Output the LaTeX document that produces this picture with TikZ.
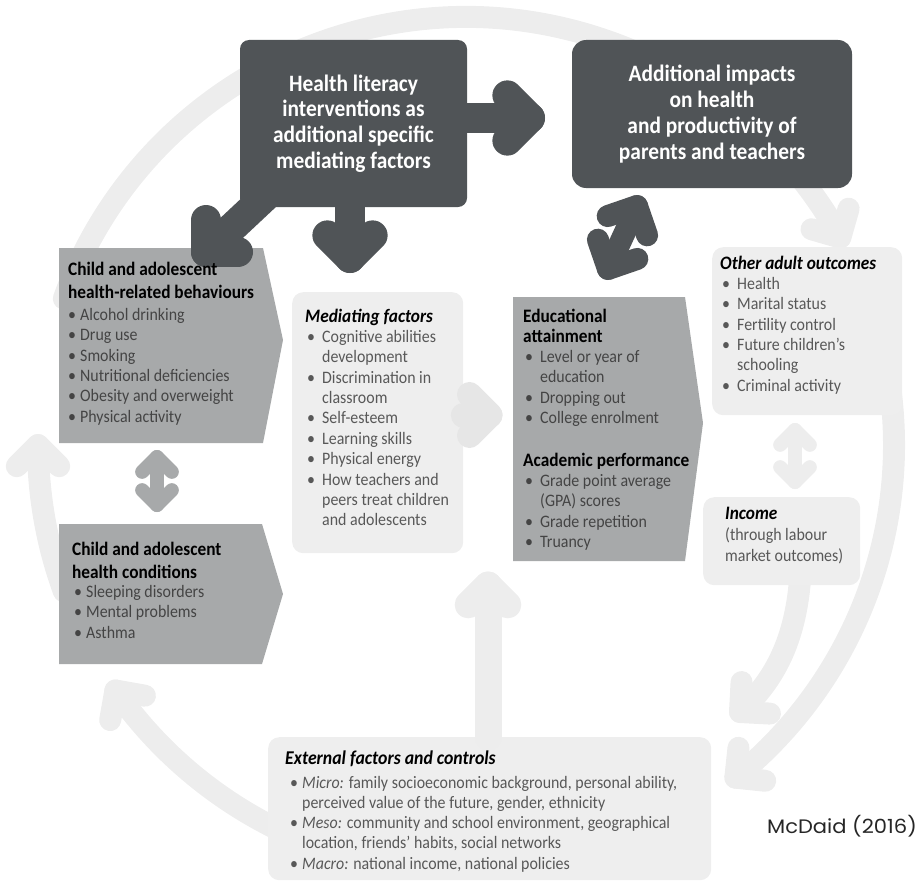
\documentclass[tikz,border=0pt]{standalone}
\usepackage{fontspec}
\setmainfont{Carlito}[FakeStretch=0.91]
\newfontfamily\citefont{Poppins}[FakeStretch=1.08]
\usetikzlibrary{calc}
\definecolor{darkfill}{RGB}{80,84,87}
\definecolor{midfill}{RGB}{167,169,170}
\definecolor{lightfill}{RGB}{238,238,238}
\definecolor{ringgray}{RGB}{237,237,237}
\definecolor{arrowgray}{RGB}{230,230,230}
\definecolor{miditem}{RGB}{68,68,68}
\definecolor{lightitem}{RGB}{88,88,88}
\tikzset{
  darkbox/.style={fill=darkfill, rounded corners=9pt, text=white, align=center,
    font=\bfseries\fontsize{23.5}{25.8}\selectfont, inner sep=0pt},
  lightbox/.style={fill=lightfill, rounded corners=11pt, inner sep=0pt},
  midbox/.style={fill=midfill},
  titletext/.style={anchor=north west, inner sep=0pt, align=left, text=black,
    font=\bfseries\fontsize{19}{22.5}\selectfont},
  itemtext/.style={anchor=north west, inner sep=0pt, align=left,
    font=\fontsize{17.5}{20.4}\selectfont},
  darkarrow/.style={draw=darkfill, line width=30pt, line cap=round, line join=round},
  ringarrow/.style={draw=ringgray, line width=22pt, line cap=round, line join=round},
}
\def\chevron[#1](#2)(#3:#4){\draw[#1] ($(#2)+(#3+135:#4)$) -- (#2) -- ($(#2)+(#3-135:#4)$);}
\def\ringarc[#1](#2:#3){\draw[#1] ($(ctr)+(#2:428)$) arc (#2:#3:428);
  \coordinate (ringtip) at ($(ctr)+(#3:428)$); \chevron[#1](ringtip)(#3+90:30)}
\def\itm{\makebox[15pt][l]{\textbullet}}
\def\ind{\hspace*{15pt}}
\def\sitm{\makebox[12pt][l]{\textbullet}}

\begin{document}
\begin{tikzpicture}[x=1pt, y=-1pt]
	\useasboundingbox (0,0) rectangle (923,883);
	\coordinate (ctr) at (466,445);
	
	%%%%% RING %%%%%
	\ringarc[ringarrow](200:331)
	\ringarc[ringarrow](-10:51)
	\ringarc[ringarrow](110:145)
	\ringarc[ringarrow](160:180)
	\draw[ringarrow] (800,580) .. controls (795,640) and (775,680) .. (740,712);
	\chevron[ringarrow](740,712)(138:30)
	
	%%%%% BOXES %%%%%
	\node[darkbox, minimum width=227, minimum height=167] (hl) at (353.5,123.5)
		{Health literacy\\interventions as\\additional specific\\mediating factors};
	\node[darkbox, rounded corners=14pt, minimum width=280, minimum height=148] (add) at (712,114)
		{Additional impacts\\on health\\and productivity of\\parents and teachers};
	
	\fill[midbox] (59,248) -- (263,248) -- (283,340) -- (263,443) -- (59,443) -- cycle;
	\fill[midbox] (59,524) -- (262,524) -- (283,594) -- (262,664) -- (59,664) -- cycle;
	\fill[midbox] (513,297) -- (685,297) -- (703,423) -- (685,561) -- (513,561) -- cycle;
	
	\node[lightbox, minimum width=171, minimum height=261, anchor=north west] (med) at (292,292) {};
	\node[lightbox, minimum width=190, minimum height=168, anchor=north west] (adult) at (712,247) {};
	\node[lightbox, minimum width=157, minimum height=88, anchor=north west] (income) at (703,497) {};
	\node[lightbox, minimum width=443, minimum height=143, anchor=north west] (ext) at (268,737) {};
	
	%%%%% LIGHT ARROWS %%%%%
	\draw[ringarrow, draw=midfill, line width=14pt] (157,457) -- (157,505);
	\chevron[ringarrow, draw=midfill, line width=14pt](157,457)(270:21)
	\chevron[ringarrow, draw=midfill, line width=14pt](157,505)(90:21)
	
	\draw[ringarrow, line width=14pt] (795,430) -- (795,482);
	\chevron[ringarrow, line width=14pt](795,430)(270:21)
	\chevron[ringarrow, line width=14pt](795,482)(90:21)
	
	\coordinate (tipF) at (488,585);
	\draw[ringarrow, line width=27pt] (ext.north -| tipF) -- (tipF);
	\chevron[ringarrow, line width=27pt](tipF)(270:28)
	
	\coordinate (tipG) at (490,415);
	\draw[ringarrow, draw=arrowgray, line width=25pt] (med.east |- tipG) -- (tipG);
	\chevron[ringarrow, draw=arrowgray, line width=25pt](tipG)(0:29)
	
	%%%%% DARK ARROWS %%%%%
	\coordinate (tipA) at (530,118);
	\draw[darkarrow] (hl.east |- tipA) -- (tipA);
	\chevron[darkarrow](tipA)(0:32)
	
	\coordinate (tipB) at (206,252);
	\draw[darkarrow] ($(hl.south west)+(30,-15)$) -- (tipB);
	\chevron[darkarrow](tipB)(135:32)
	
	\coordinate (tipC) at (350,258);
	\draw[darkarrow] (hl.south -| tipC) -- (tipC);
	\chevron[darkarrow](tipC)(90:32)
	
	\coordinate (tipD) at (637,206);
	\coordinate (tipE) at (608,269);
	\draw[darkarrow, line width=22pt] (tipD) -- (tipE);
	\chevron[darkarrow, line width=22pt](tipD)(-64:31)
	\chevron[darkarrow, line width=22pt](tipE)(116:31)
	
	%%%%% TEXTS %%%%%
	\node[titletext] (behtitle) at (68,262) {Child and adolescent\\health-related behaviours};
	\node[itemtext, text=miditem] (behitems) at (68,308) {\sitm Alcohol drinking\\\sitm Drug use\\\sitm Smoking\\
		\sitm Nutritional deficiencies\\\sitm Obesity and overweight\\\sitm Physical activity};
	
	\node[titletext] (condtitle) at (72,542) {Child and adolescent\\health conditions};
	\node[itemtext, text=miditem] (conditems) at (74,585) {\sitm Sleeping disorders\\\sitm Mental problems\\\sitm Asthma};
	
	\node[titletext, font=\bfseries\itshape\fontsize{19}{22.5}\selectfont] (medtitle) at (305,309) {Mediating factors};
	\node[itemtext, text=lightitem] (meditems) at (307,330) {\itm Cognitive abilities\\\ind development\\
		\itm Discrimination in\\\ind classroom\\\itm Self-esteem\\\itm Learning skills\\\itm Physical energy\\
		\itm How teachers and\\\ind peers treat children\\\ind and adolescents};
	
	\node[titletext, font=\bfseries\fontsize{19}{20.2}\selectfont] (edutitle) at (523,309) {Educational\\attainment};
	\node[itemtext, text=miditem] (eduitems) at (525,350) {\itm Level or year of\\\ind education\\
		\itm Dropping out\\\itm College enrolment};
	\node[titletext] (acatitle) at (523,453) {Academic performance};
	\node[itemtext, text=miditem] (acaitems) at (525,474) {\itm Grade point average\\\ind (GPA) scores\\
		\itm Grade repetition\\\itm Truancy};
	
	\node[titletext, font=\bfseries\itshape\fontsize{19}{22.5}\selectfont] (adulttitle) at (720,256) {Other adult outcomes};
	\node[itemtext, text=lightitem] (adultitems) at (722,277) {\itm Health\\\itm Marital status\\\itm Fertility control\\
		\itm Future children's\\\ind schooling\\\itm Criminal activity};
	
	\node[titletext, font=\bfseries\itshape\fontsize{19}{22.5}\selectfont] (inctitle) at (725,507) {Income};
	\node[itemtext, text=lightitem] (incitems) at (725,528) {(through labour\\market outcomes)};
	
	\node[titletext, font=\bfseries\itshape\fontsize{19.5}{20.2}\selectfont] (exttitle) at (285,751) {External factors and controls};
	\node[itemtext, text=lightitem, font=\fontsize{17.5}{20.2}\selectfont] (extitems) at (290,776)
		{\sitm\textit{Micro:} family socioeconomic background, personal ability,\\
		\hspace*{12pt}perceived value of the future, gender, ethnicity\\
		\sitm\textit{Meso:} community and school environment, geographical\\
		\hspace*{12pt}location, friends' habits, social networks\\
		\sitm\textit{Macro:} national income, national policies};
	
	\node[font=\citefont\fontsize{19.5}{22}\selectfont, text=black!85, inner sep=0pt] (cite) at (842,826) {McDaid (2016)};
\end{tikzpicture}
\end{document}
